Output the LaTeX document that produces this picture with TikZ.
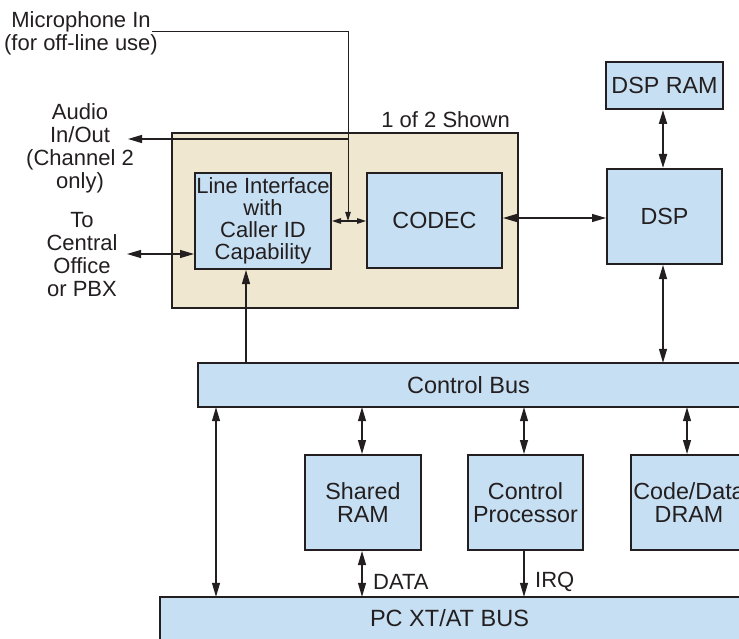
\documentclass[tikz,border=0pt]{standalone}
\usepackage{fontspec}
\setmainfont{Liberation Sans}
\usetikzlibrary{arrows.meta}
\definecolor{boxblue}{RGB}{199,223,243}
\definecolor{cardtan}{RGB}{240,231,208}
\definecolor{ink}{RGB}{35,31,32}
\tikzset{
  blk/.style={draw=ink, line width=2pt, fill=boxblue, inner sep=0pt, align=center, text=ink,
              font=\fontsize{23.3}{23.5}\selectfont},
  busfill/.style={fill=boxblue, inner sep=0pt, align=center, text=ink, font=\fontsize{23.5}{23.5}\selectfont},
  border/.style={draw=ink, line width=2pt},
  con/.style={draw=ink, line width=1.1pt},
  smalltip/.style={>={Triangle[length=9pt,width=5.5pt]}},
  lbl/.style={inner sep=0pt, align=center, text=ink, font=\fontsize{22}{23}\selectfont},
}
\begin{document}
\begin{tikzpicture}[x=1pt,y=-1pt, >={Triangle[length=14pt,width=8pt]}]
\useasboundingbox (0,0) rectangle (739,639);

% card (1 of 2)
\node[draw=ink, line width=2pt, fill=cardtan, minimum width=346pt, minimum height=175pt, inner sep=0pt] (card) at (345,220.5) {};
\node[lbl, anchor=base east] (shown) at (510,128) {1 of 2 Shown};

% boxes
\node[blk, minimum width=136pt, minimum height=96pt, font=\fontsize{22}{22}\selectfont] (LI) at (263,221) {Line Interface\\with\\Caller ID\\Capability};
\node[blk, minimum width=135pt, minimum height=95pt] (CODEC) at (434.5,220.5) {CODEC};
\node[blk, minimum width=115pt, minimum height=95pt] (DSP) at (664.5,216.5) {DSP};
\node[blk, minimum width=117pt, minimum height=47pt] (DSPRAM) at (664.5,85.5) {DSP RAM};

\node[busfill, minimum width=541pt, minimum height=44pt] (CB) at (468.5,385) {Control Bus};
\draw[border] (CB.north east) -- (CB.north west) -- (CB.south west) -- (CB.south east);

\node[blk, minimum width=116pt, minimum height=95pt] (SR) at (363,502.5) {Shared\\RAM};
\node[blk, minimum width=115pt, minimum height=95pt] (CP) at (525.5,502.5) {Control\\Processor};
\node[blk, minimum width=116pt, minimum height=95pt] (CDD) at (689,502.5) {Code/Data\\DRAM};

\node[busfill, minimum width=579pt, minimum height=42pt] (PC) at (449.5,618) {PC XT/AT BUS};
\draw[border] (PC.north east) -- (PC.north west) -- (PC.south west);

% side labels
\node[lbl] (mic) at (81,33) {Microphone In\\(for off-line use)};
\node[lbl] (audio) at (80,148) {Audio\\In/Out\\(Channel 2\\only)};
\node[lbl] (central) at (82,254.5) {To\\Central\\Office\\or PBX};

% connectors
\coordinate (micA) at (152,31.7);
\coordinate (micB) at (348,31.7);
\draw[con, smalltip, line width=1pt, ->] (micA) -- (micB) -- (micB |- LI.east);
\coordinate (audJ) at (348,139);
\coordinate (audT) at (128,139);
\draw[con, ->] (audJ) -- (audT);
\coordinate (coT) at (127,254);
\draw[con, <->] (coT) -- (coT -| LI.west);

\draw[con, smalltip, <->] (LI.east) -- (LI.east -| CODEC.west);
\draw[con, <->] (CODEC.east |- 0,218) -- (DSP.west |- 0,218);
\draw[con, line width=2pt, <->] (DSPRAM.south -| 663,0) -- (DSP.north -| 663,0);
\draw[con, <->] (DSP.south -| 663,0) -- (CB.north -| 663,0);
\draw[con, ->] (CB.north -| 246,0) -- (LI.south -| 246,0);

\draw[con, <->] (CB.south -| 216,0) -- (PC.north -| 216,0);
\draw[con, <->] (CB.south -| 362,0) -- (SR.north -| 362,0);
\draw[con, <->] (CB.south -| 524,0) -- (CP.north -| 524,0);
\draw[con, <->] (CB.south -| 687,0) -- (CDD.north -| 687,0);
\draw[con, <->] (SR.south -| 362,0) -- (PC.north -| 362,0);
\draw[con, ->] (CP.south -| 524,0) -- (PC.north -| 524,0);

\node[lbl, anchor=west] (data) at (373,582) {DATA};
\node[lbl, anchor=west] (irq) at (535,582) {IRQ};
\end{tikzpicture}
\end{document}
